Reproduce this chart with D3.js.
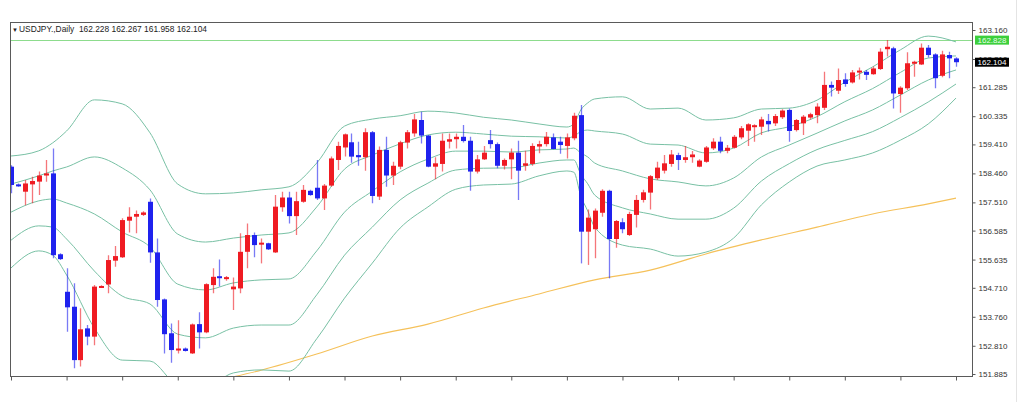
<!DOCTYPE html>
<html>
<head>
<meta charset="utf-8">
<script src="https://cdnjs.cloudflare.com/ajax/libs/d3/7.8.5/d3.min.js"></script>
<style>
  html, body { margin: 0; padding: 0; background: #fff; }
  svg { display: block; }
  text { font-family: "Liberation Sans", Arial, sans-serif; }
</style>
</head>
<body>
<div id="chart"></div>
<script>
// Daily bars, oldest first
const opens = [158.68,158.10,157.86,158.10,158.19,158.39,158.46,155.81,154.58,154.09,152.34,153.38,153.11,154.72,154.82,155.60,155.71,156.91,157.04,157.10,
  157.53,155.87,154.33,153.22,152.67,152.72,152.56,153.52,153.25,154.80,155.09,155.02,154.66,154.69,155.89,156.44,156.13,156.17,155.87,157.35,
  157.67,157.06,157.53,157.89,157.99,157.64,158.06,158.90,159.31,159.48,159.06,158.99,159.81,157.70,159.23,158.39,158.68,159.47,159.77,160.21,
  159.70,158.68,158.77,159.50,159.58,159.66,159.53,158.52,158.92,159.55,159.42,158.71,158.92,159.14,158.71,158.77,159.34,159.42,159.64,159.50,
  159.36,159.61,160.37,156.55,156.63,157.17,157.89,156.31,156.86,156.44,157.10,157.59,157.83,158.30,158.55,158.77,159.06,158.90,158.99,158.68,
  158.84,159.28,159.50,159.20,159.30,159.64,159.86,159.99,159.99,160.18,160.10,160.30,160.54,159.88,160.10,160.29,160.37,160.61,161.36,161.17,
  161.54,161.44,161.77,161.79,161.71,161.88,162.53,162.56,161.06,161.25,162.07,162.03,162.58,162.36,161.66,162.34,162.228];
const highs = [158.73,158.13,158.24,158.35,158.52,158.90,159.28,155.84,155.35,154.86,154.04,153.49,154.80,154.79,155.78,156.08,156.99,157.35,157.24,157.22,
  157.64,156.33,154.36,153.54,153.65,152.75,153.54,153.91,154.86,155.35,155.64,155.10,155.05,156.50,156.82,156.52,156.33,156.19,157.75,157.86,
  157.86,157.86,158.08,157.92,158.90,158.11,159.01,159.50,159.77,159.77,159.50,159.94,159.85,159.34,159.66,158.84,159.53,159.88,160.41,160.48,
  159.72,158.99,159.77,159.77,159.77,160.05,159.66,159.06,159.36,159.88,159.47,158.95,159.28,159.53,159.20,159.45,159.53,159.82,159.77,159.66,
  159.77,160.45,160.70,157.28,157.31,157.94,157.92,156.93,156.99,157.20,157.75,157.92,158.41,158.84,159.06,159.23,159.14,159.36,159.19,158.92,
  159.36,159.61,159.66,159.39,159.72,160.01,160.10,160.07,160.32,160.41,160.41,160.56,160.59,160.24,160.37,160.45,160.76,161.79,161.47,161.90,
  161.74,161.85,161.93,161.85,161.96,162.56,162.83,162.61,161.32,162.43,162.15,162.72,162.67,162.40,162.48,162.45,162.267];
const lows = [157.81,158.02,157.42,157.48,157.75,158.19,155.68,155.62,153.27,152.07,152.13,152.83,152.83,154.70,154.53,155.40,155.69,156.52,156.50,157.06,
  155.53,154.09,152.56,152.25,152.56,152.62,152.54,152.72,153.22,154.53,154.75,154.94,153.98,154.53,155.35,155.71,155.51,155.95,155.85,157.20,
  156.82,156.44,157.50,157.73,157.59,157.26,158.02,158.57,159.01,158.81,158.71,158.55,157.48,157.59,158.02,158.08,158.60,159.28,159.66,159.44,
  158.66,158.27,158.52,159.28,159.28,159.47,157.89,158.46,158.90,159.28,158.63,158.59,158.27,157.59,158.55,158.71,159.12,159.34,159.25,159.10,
  158.95,159.55,155.51,155.46,155.68,157.04,155.02,156.02,156.50,156.41,156.69,157.51,157.28,158.24,158.46,158.68,158.57,158.81,158.81,158.66,
  158.81,159.23,159.12,159.12,159.28,159.58,159.36,159.50,159.72,159.83,160.01,160.24,159.50,159.83,159.72,160.23,160.10,160.54,160.98,161.06,
  161.30,161.41,161.54,161.52,161.69,161.85,162.29,160.59,160.45,161.19,161.63,162.01,162.26,161.25,161.61,161.58,161.958];
const closes = [158.08,158.06,158.13,158.21,158.39,158.46,155.78,155.65,154.07,152.34,153.35,153.11,154.75,154.77,155.62,155.75,156.93,157.04,157.13,157.18,
  155.87,154.31,153.19,152.67,152.72,152.64,153.51,153.25,154.83,155.07,155.04,155.06,154.75,155.89,156.44,156.11,156.19,155.97,157.37,157.67,
  157.06,157.55,157.92,157.75,157.64,158.06,158.95,159.36,159.74,159.01,158.99,159.81,157.72,159.23,158.39,158.71,159.48,159.81,160.23,159.70,
  158.68,158.79,159.53,159.58,159.66,159.52,158.52,158.92,159.14,159.42,158.71,158.90,159.14,158.55,158.79,159.36,159.42,159.66,159.26,159.39,
  159.64,160.35,156.55,157.01,157.24,157.89,156.31,156.90,156.63,157.13,157.59,157.84,158.37,158.65,158.79,159.08,158.90,158.99,159.08,158.88,
  159.31,159.50,159.20,159.30,159.66,159.94,160.07,160.04,160.23,160.07,160.34,160.52,159.85,160.21,160.32,160.40,160.65,161.36,161.27,161.52,
  161.39,161.77,161.83,161.69,161.90,162.45,162.61,161.08,161.27,162.07,162.12,162.58,162.34,161.58,162.36,162.23,162.104];

// Bollinger band lines, read at these bar indices
const bandIdx = [0,4,6,8,12,16,20,24,28,32,36,40,44,48,52,56,60,64,68,72,76,80,81,82,83,84,88,92,96,100,104,108,112,116,120,124,128,132,136];
const bandUp2 = [159.03,159.20,159.46,159.85,160.87,160.74,159.79,158.11,157.79,157.82,157.92,158.02,158.80,160.01,160.24,160.35,160.50,160.44,160.30,160.21,
  160.08,159.98,160.08,160.54,160.77,160.90,160.97,160.57,160.60,160.21,160.28,160.57,160.60,160.86,161.45,161.95,162.51,162.96,162.77];
const bandUp1 = [158.11,158.38,158.54,158.67,159.00,158.64,157.92,156.47,156.21,156.34,156.44,156.51,157.36,158.60,159.06,159.43,159.72,159.81,159.75,159.68,
  159.66,159.62,159.68,159.83,159.88,159.85,159.75,159.42,159.39,159.13,159.29,159.79,159.99,160.32,160.81,161.24,161.77,162.24,162.31];
const bandMid = [157.19,157.56,157.62,157.49,157.13,156.54,156.05,154.83,154.64,154.87,154.97,155.00,155.92,157.19,157.88,158.51,158.93,159.19,159.19,159.16,
  159.23,159.26,159.29,159.13,159.00,158.80,158.54,158.28,158.18,158.05,158.31,159.00,159.39,159.78,160.18,160.54,161.03,161.52,161.85];
const bandLow1 = [156.27,156.74,156.70,156.31,155.26,154.44,154.18,153.19,153.07,153.39,153.49,153.49,154.48,155.78,156.70,157.59,158.14,158.57,158.63,158.64,
  158.80,158.90,158.90,158.43,158.12,157.75,157.33,157.13,156.96,156.96,157.32,158.21,158.78,159.24,159.54,159.83,160.29,160.80,161.39];
const bandLow2 = [155.36,155.92,155.78,155.13,153.39,152.34,152.31,151.55,151.49,151.92,152.02,151.98,153.04,154.37,155.52,156.67,157.36,157.94,158.08,158.11,
  158.38,158.54,158.50,157.72,157.23,156.70,156.11,155.98,155.75,155.88,156.34,157.43,158.18,158.70,158.90,159.13,159.55,160.08,160.93];

// long moving average (orange)
const maIdx = [30,36,44,52,60,68,76,84,92,100,108,116,124,132,136];
const maValues = [151.69,152.01,152.54,153.13,153.52,154.05,154.51,154.97,155.29,155.82,156.28,156.70,157.13,157.46,157.65];

const priceTicks = [163.160,162.210,161.285,160.335,159.410,158.460,157.510,156.585,155.635,154.710,153.760,152.810,151.885];
const levelPrice = 162.828;
const symbolTitle = 'USDJPY.,Daily';

const W = 1024, H = 402;
const plot = {left: 10, top: 22, right: 972, bottom: 376};
const n = closes.length;

const svg = d3.select('#chart').append('svg')
    .attr('width', W)
    .attr('height', H);

svg.append('rect').attr('width', W).attr('height', H).attr('fill', '#fff');

const x = d3.scaleLinear().domain([0, n - 1]).range([11, 956]);
const y = d3.scaleLinear().domain([151.885, 163.160]).range([374, 30]);

svg.append('clipPath').attr('id', 'plotClip')
    .append('rect')
    .attr('x', plot.left + 0.5).attr('y', plot.top + 0.5)
    .attr('width', plot.right - plot.left - 0.5)
    .attr('height', plot.bottom - plot.top - 0.5);

const g = svg.append('g').attr('clip-path', 'url(#plotClip)');

// level line
g.append('line')
    .attr('x1', plot.left).attr('x2', plot.right)
    .attr('y1', Math.round(y(levelPrice)) + 0.5).attr('y2', Math.round(y(levelPrice)) + 0.5)
    .attr('stroke', '#8ddc8d').attr('stroke-width', 1);

// moving average
const maLine = d3.line()
    .x((d, i) => x(maIdx[i]))
    .y(d => y(d))
    .curve(d3.curveMonotoneX);
g.append('path')
    .attr('d', maLine(maValues))
    .attr('fill', 'none')
    .attr('stroke', '#f5c15a')
    .attr('stroke-width', 1.1);

// bands
const bandLine = d3.line()
    .x((d, i) => x(bandIdx[i]))
    .y(d => y(d))
    .curve(d3.curveMonotoneX);
[bandUp2, bandUp1, bandMid, bandLow1, bandLow2].forEach(vals => {
    g.append('path')
        .attr('d', bandLine(vals))
        .attr('fill', 'none')
        .attr('stroke', '#78c0a4')
        .attr('stroke-width', 1);
});

// candles
const bars = d3.range(n).map(i => ({
    i: i, o: opens[i], h: highs[i], l: lows[i], c: closes[i]
}));
const candleColor = d => d.c >= d.o ? '#ef1b22' : '#1f22ee';

g.selectAll('.wick')
    .data(bars)
    .enter()
    .append('line')
    .attr('class', 'wick')
    .attr('x1', d => Math.round(x(d.i)) + 0.5)
    .attr('x2', d => Math.round(x(d.i)) + 0.5)
    .attr('y1', d => y(d.h))
    .attr('y2', d => y(d.l))
    .attr('stroke', candleColor)
    .attr('stroke-opacity', 0.6)
    .attr('stroke-width', 1.3);

g.selectAll('.body')
    .data(bars)
    .enter()
    .append('rect')
    .attr('class', 'body')
    .attr('x', d => Math.round(x(d.i)) - 2)
    .attr('width', 5)
    .attr('y', d => y(Math.max(d.o, d.c)))
    .attr('height', d => Math.max(2, y(Math.min(d.o, d.c)) - y(Math.max(d.o, d.c))))
    .attr('fill', candleColor);

// frame
svg.append('rect')
    .attr('x', plot.left + 0.5).attr('y', plot.top + 0.5)
    .attr('width', plot.right - plot.left)
    .attr('height', plot.bottom - plot.top)
    .attr('fill', 'none')
    .attr('stroke', '#5a5a5a');

// bottom ticks
const xAxis = svg.append('g')
    .attr('transform', `translate(0,${plot.bottom + 0.5})`)
    .call(d3.axisBottom(x).tickValues(d3.range(0, n, 8)).tickSize(4).tickFormat(''));
xAxis.select('.domain').remove();
xAxis.selectAll('line').attr('stroke', '#5a5a5a');

// right price axis
const yAxis = svg.append('g')
    .attr('transform', `translate(${plot.right + 0.5},0)`)
    .call(d3.axisRight(y).tickValues(priceTicks).tickSize(3).tickPadding(3).tickFormat(d3.format('.3f')));
yAxis.select('.domain').remove();
yAxis.selectAll('line').attr('stroke', '#5a5a5a');
yAxis.selectAll('text')
    .attr('font-family', '"Liberation Sans", Arial, sans-serif')
    .attr('font-size', 8)
    .attr('fill', '#333');

// price tags
function priceTag(price, bg, fg) {
    const yy = y(price);
    svg.append('rect')
        .attr('x', 975).attr('y', yy - 4.5)
        .attr('width', 34).attr('height', 9)
        .attr('fill', bg);
    svg.append('text')
        .attr('x', 977.5).attr('y', yy + 3)
        .attr('font-size', 8)
        .attr('fill', fg)
        .text(price.toFixed(3));
}
priceTag(levelPrice, '#3ccf3c', '#e8ffe8');
priceTag(closes[n - 1], '#000', '#fff');

// faint separator on the far right
svg.append('line')
    .attr('x1', 1016.5).attr('x2', 1016.5)
    .attr('y1', 0).attr('y2', H)
    .attr('stroke', '#e4e4e4');

// header
svg.append('text')
    .attr('x', 12).attr('y', 31.5)
    .attr('font-size', 6)
    .attr('fill', '#222')
    .text('\u25BC');
const last = n - 1;
svg.append('text')
    .attr('x', 19).attr('y', 32)
    .attr('font-size', 8.4)
    .attr('fill', '#222')
    .attr('xml:space', 'preserve')
    .style('white-space', 'pre')
    .text(`${symbolTitle}  ${opens[last].toFixed(3)} ${highs[last].toFixed(3)} ${lows[last].toFixed(3)} ${closes[last].toFixed(3)}`);
</script>
</body>
</html>
